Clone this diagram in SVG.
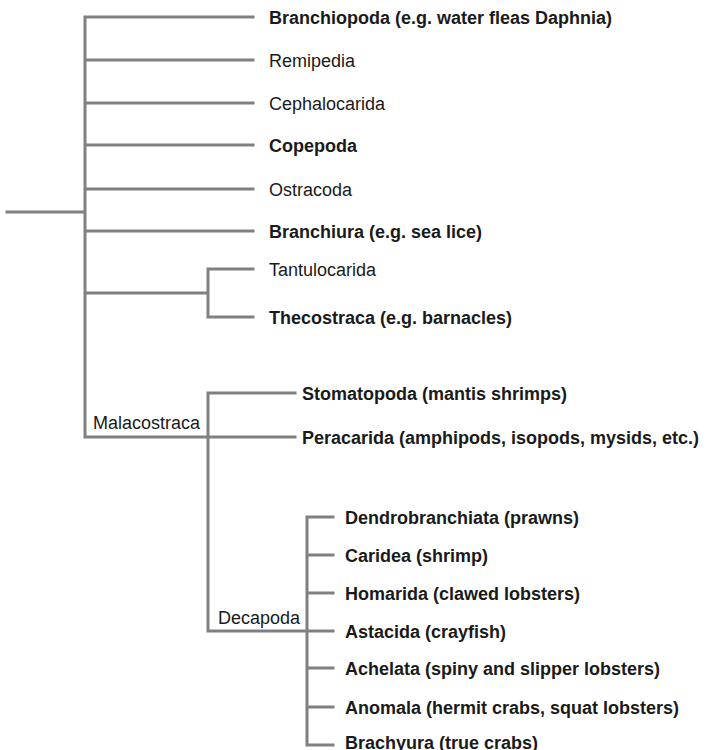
<svg xmlns="http://www.w3.org/2000/svg" width="709" height="750" viewBox="0 0 709 750">
<style>
.l{stroke:#808080;stroke-width:3;fill:none;stroke-linecap:square}
text{font-family:"Liberation Sans",Arial,sans-serif;font-size:18px;fill:#1a1a1a}
.b{font-weight:bold}
</style>
<rect width="709" height="750" fill="#fff"/>
<g id="connectors">
<path class="l" d="M7 212H85M85 17V437M85 17H253M85 60H253M85 103H253M85 145H253M85 189H253M85 231H253M85 293H208M208 269V317M208 269H253M208 317H253M85 437H295M208 393V631M208 393H295M208 631H307M307 517V745M307 517H333M307 555H333M307 593H333M307 631H333M307 668H333M307 707H333M307 745H333"/>
</g>
<g id="n1"><text class="b" x="269" y="23.5">Branchiopoda (e.g. water fleas Daphnia)</text></g>
<g id="n2"><text x="269" y="66.5">Remipedia</text></g>
<g id="n3"><text x="269" y="109.5">Cephalocarida</text></g>
<g id="n4"><text class="b" x="269" y="151.5">Copepoda</text></g>
<g id="n5"><text x="269" y="195.5">Ostracoda</text></g>
<g id="n6"><text class="b" x="269" y="237.5">Branchiura (e.g. sea lice)</text></g>
<g id="n7"><text x="269" y="275.5">Tantulocarida</text></g>
<g id="n8"><text class="b" x="269" y="323.5">Thecostraca (e.g. barnacles)</text></g>
<g id="malacostraca"><text x="93" y="429">Malacostraca</text></g>
<g id="n9"><text class="b" x="302" y="399.5">Stomatopoda (mantis shrimps)</text></g>
<g id="n10"><text class="b" x="302" y="443.5">Peracarida (amphipods, isopods, mysids, etc.)</text></g>
<g id="decapoda"><text x="218" y="624">Decapoda</text></g>
<g id="n11"><text class="b" x="345" y="523.5">Dendrobranchiata (prawns)</text></g>
<g id="n12"><text class="b" x="345" y="561.5">Caridea (shrimp)</text></g>
<g id="n13"><text class="b" x="345" y="599.5">Homarida (clawed lobsters)</text></g>
<g id="n14"><text class="b" x="345" y="637.5">Astacida (crayfish)</text></g>
<g id="n15"><text class="b" x="345" y="674.5">Achelata (spiny and slipper lobsters)</text></g>
<g id="n16"><text class="b" x="345" y="713.5">Anomala (hermit crabs, squat lobsters)</text></g>
<g id="n17"><text class="b" x="345" y="749">Brachyura (true crabs)</text></g>
</svg>
